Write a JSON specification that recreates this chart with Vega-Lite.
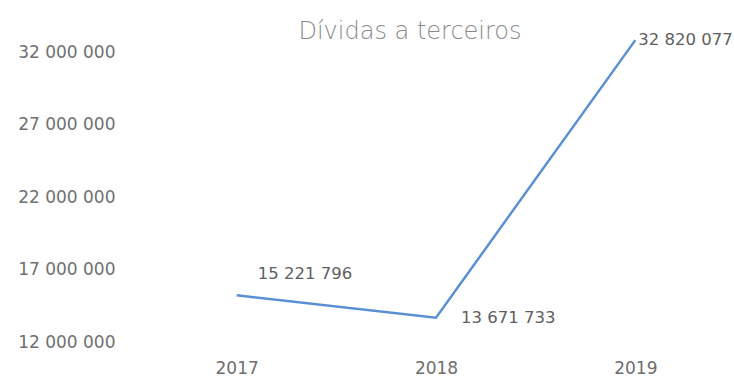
{
  "$schema": "https://vega.github.io/schema/vega-lite/v6.json",
  "autosize": "none",
  "width": 598,
  "height": 304.5,
  "padding": {"left": 137, "top": 37.5, "right": 0, "bottom": 35},
  "background": "white",
  "config": {
    "locale": {"number": {"decimal": ",", "thousands": " ", "grouping": [3], "currency": ["", ""]}},
    "view": {"stroke": null},
    "font": "DejaVu Sans"
  },
  "title": {
    "text": "Dívidas a terceiros",
    "font": "DejaVu Sans",
    "fontSize": 24,
    "fontWeight": 300,
    "color": "#8a8a8a",
    "anchor": "middle",
    "frame": "group",
    "dx": -26,
    "offset": -12
  },
  "data": {
    "values": [
      {"year": "2017", "value": 15221796},
      {"year": "2018", "value": 13671733},
      {"year": "2019", "value": 32820077}
    ]
  },
  "encoding": {
    "x": {
      "field": "year", "type": "ordinal",
      "scale": {"type": "point", "padding": 0.5},
      "axis": {"title": null, "labelAngle": 0, "domain": false, "ticks": false, "labelPadding": 18, "labelFontSize": 17, "labelColor": "#6e6e6e", "labelFont": "DejaVu Sans"}
    },
    "y": {
      "field": "value", "type": "quantitative",
      "scale": {"domain": [12000000, 33000000], "nice": false, "zero": false},
      "axis": {"title": null, "values": [12000000, 17000000, 22000000, 27000000, 32000000], "format": ",d", "grid": false, "domain": false, "ticks": false, "labelPadding": 22, "labelFontSize": 17, "labelColor": "#707070", "labelFont": "DejaVu Sans"}
    }
  },
  "layer": [
    {"mark": {"type": "line", "color": "#5b8fd4", "strokeWidth": 2.5, "clip": false}},
    {
      "transform": [{"filter": "datum.year == '2017'"}],
      "mark": {"type": "text", "align": "left", "baseline": "middle", "dx": 21, "dy": -21, "fontSize": 16.5, "color": "#606060"},
      "encoding": {"text": {"field": "value", "type": "quantitative", "format": ",d"}}
    },
    {
      "transform": [{"filter": "datum.year == '2018'"}],
      "mark": {"type": "text", "align": "left", "baseline": "middle", "dx": 25, "dy": 0, "fontSize": 16.5, "color": "#606060"},
      "encoding": {"text": {"field": "value", "type": "quantitative", "format": ",d"}}
    },
    {
      "transform": [{"filter": "datum.year == '2019'"}],
      "mark": {"type": "text", "align": "left", "baseline": "middle", "dx": 3, "dy": 0, "fontSize": 16.5, "color": "#606060"},
      "encoding": {"text": {"field": "value", "type": "quantitative", "format": ",d"}}
    }
  ]
}
